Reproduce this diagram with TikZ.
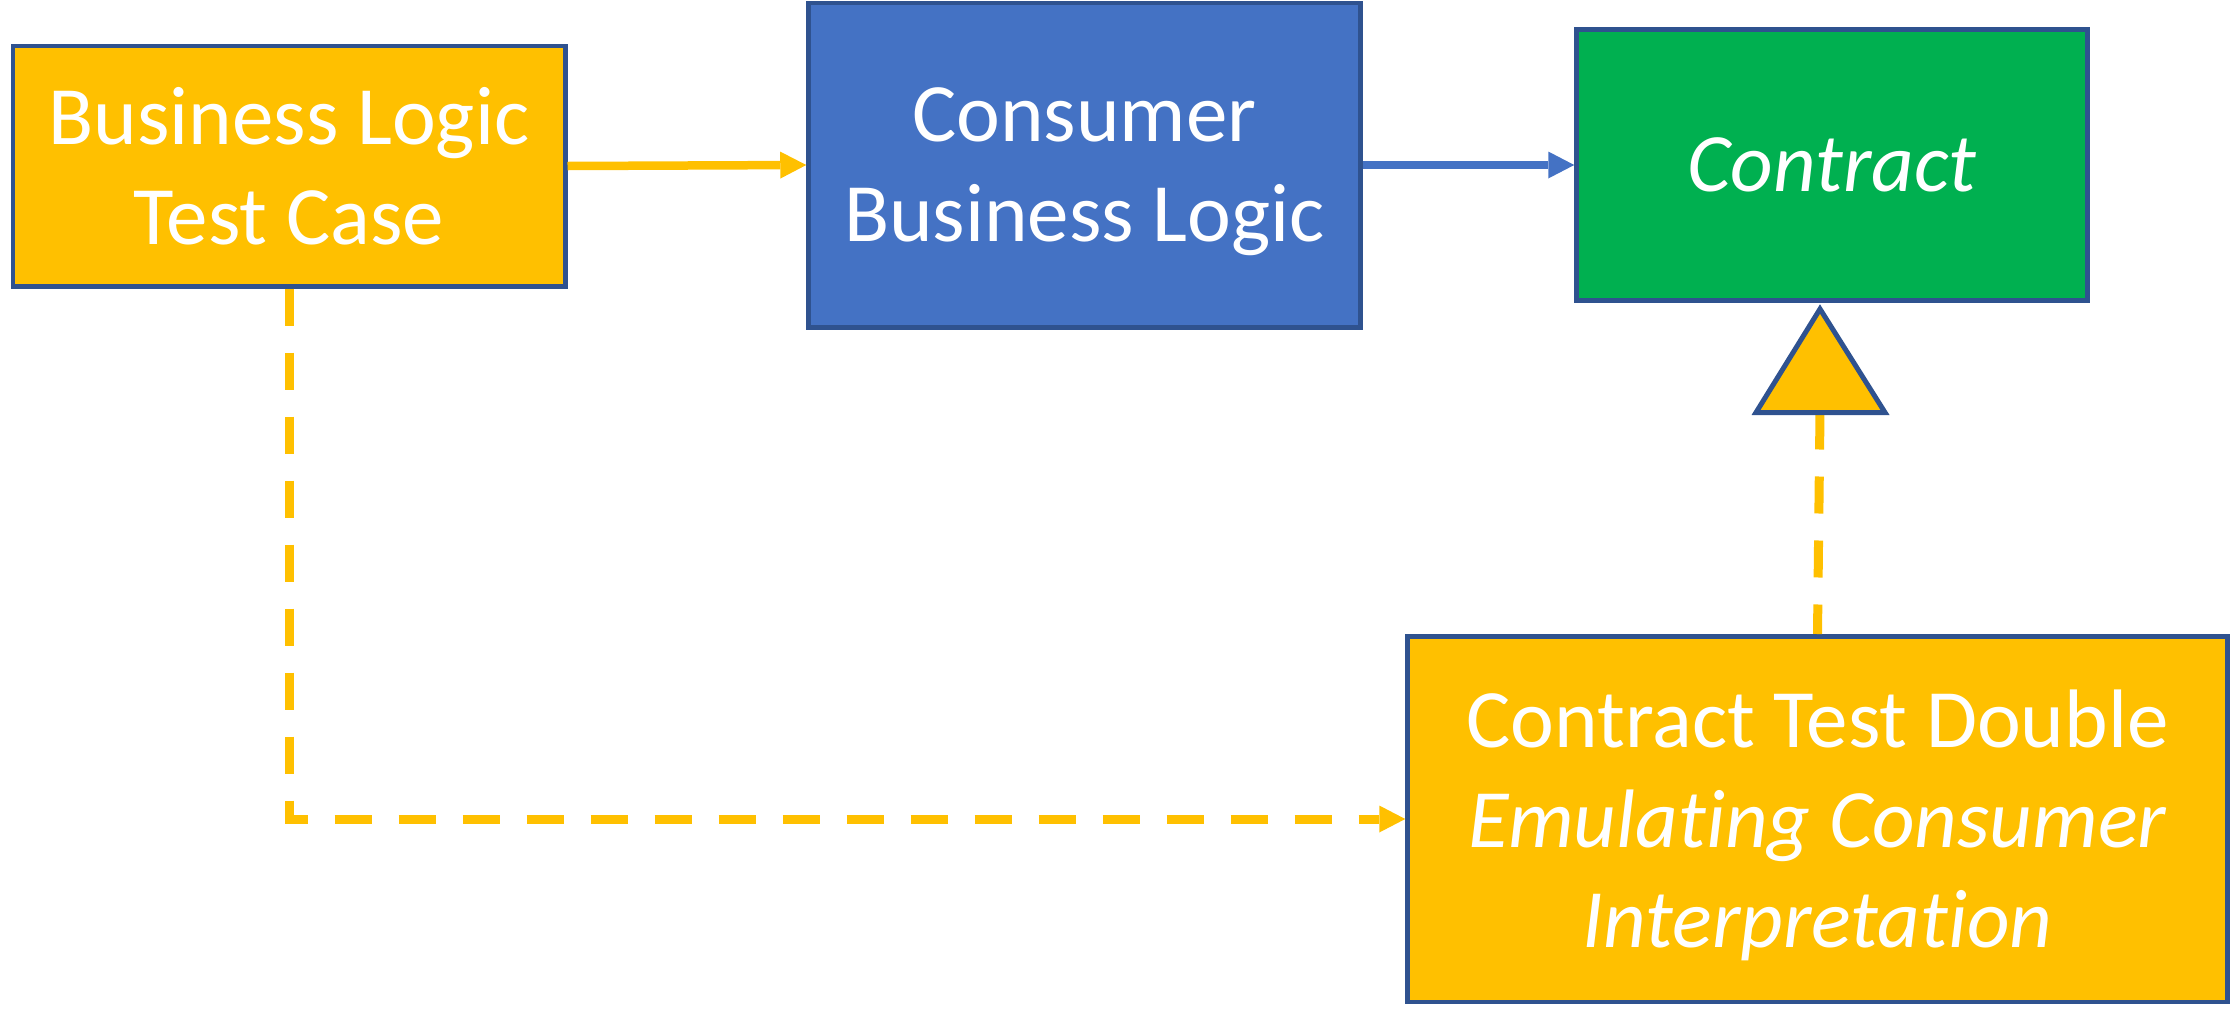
\documentclass[tikz,border=0pt]{standalone}
\usepackage{fontspec}
\setmainfont{Carlito}[Ligatures=NoCommon]
\usetikzlibrary{arrows.meta}
\definecolor{gold}{HTML}{FFC000}
\definecolor{blu}{HTML}{4472C4}
\definecolor{grn}{HTML}{00B050}
\definecolor{edgeblue}{HTML}{2F528F}
\begin{document}
\begin{tikzpicture}[x=1pt,y=-1pt,
  box/.style={draw=edgeblue, line width=4.5pt, inner sep=0pt, text=white, align=center,
    text depth=0pt, font=\fontsize{83}{100}\selectfont},
  tip/.style={-{Triangle[length=26pt,width=27pt,line width=0pt]}},
  solidarrow/.style={line width=8.5pt, tip},
  dashline/.style={gold, line width=9pt, dash pattern=on 37pt off 27pt},
  inherit/.style={fill=gold, draw=edgeblue, line width=5pt}
]
\useasboundingbox (0,0) rectangle (2231,1018);
\node[box, fill=gold, minimum width=552.5pt, minimum height=240.5pt] (A) at (289,166)
  {Business Logic\\Test Case};
\node[box, fill=blu, minimum width=552pt, minimum height=324.5pt] (B) at (1084.5,165)
  {Consumer\\Business Logic};
\node[box, fill=grn, minimum width=511pt, minimum height=271pt] (C) at (1832,165)
  {\itshape Contract};
\node[box, fill=gold, minimum width=820pt, minimum height=365.5pt] (D) at (1817.5,819)
  {Contract Test Double\\\itshape Emulating Consumer\\\itshape Interpretation};

\coordinate (triapex) at (1820,309);
\coordinate (tribase) at (1820,412.5);
\coordinate (trileft) at (1756,412.5);
\coordinate (triright) at (1885,412.5);

\draw[solidarrow, gold] (A.east) -- (B.west);
\draw[solidarrow, blu] (B.east) -- (C.west);
\draw[dashline, tip] (A.south) |- (D.west);
\draw[dashline] (tribase) -- (D.north);
\draw[inherit] (trileft) -- (triapex) -- (triright) -- cycle;
\end{tikzpicture}
\end{document}
